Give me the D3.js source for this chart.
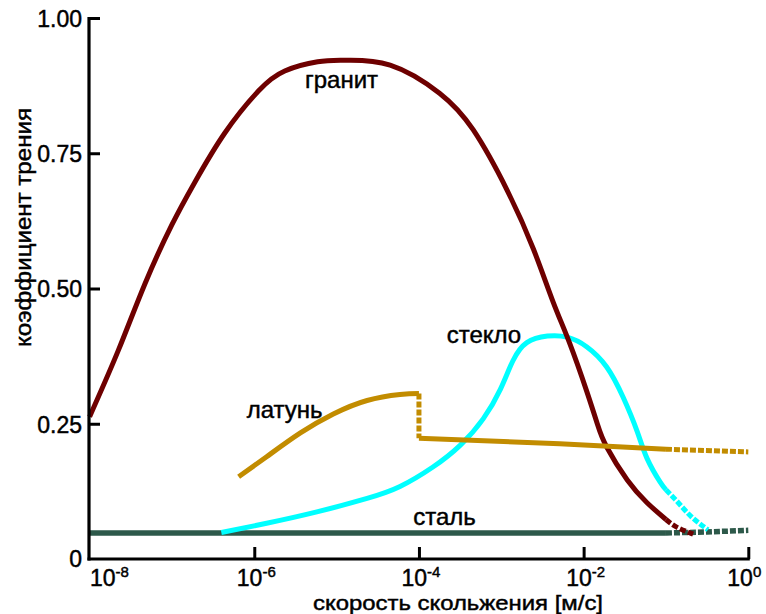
<!DOCTYPE html>
<html>
<head>
<meta charset="utf-8">
<script src="https://cdn.jsdelivr.net/npm/d3@7/dist/d3.min.js"></script>
<style>
  html, body { margin: 0; padding: 0; background: #fff; }
  svg { display: block; }
  text { font-family: "Liberation Sans", Arial, sans-serif; fill: #000; stroke: #000; stroke-width: 0.45px; }
</style>
</head>
<body>
<svg id="chart" width="766" height="614"></svg>
<script>
// ---- data (log10 of sliding speed in m/s, friction coefficient) ----
const graniteLogV  = [-8.0, -7.65, -7.33, -7.0, -6.72, -6.36, -5.95, -5.63, -5.23, -4.9, -4.35, -3.75, -3.34, -2.93, -2.61, -2.37, -2.17, -1.96, -1.83, -1.72, -1.47, -1.23, -1.0];
const graniteMu    = [0.263, 0.386, 0.508, 0.618, 0.697, 0.787, 0.865, 0.902, 0.919, 0.922, 0.913, 0.861, 0.793, 0.682, 0.573, 0.475, 0.399, 0.309, 0.248, 0.207, 0.146, 0.104, 0.073];
const graniteExtLogV = [-1.0, -0.87, -0.67];
const graniteExtMu   = [0.073, 0.059, 0.046];

const glassLogV  = [-6.40, -5.85, -5.24, -4.63, -4.23, -3.83, -3.50, -3.22, -3.01, -2.86, -2.69, -2.44, -2.20, -1.96, -1.72, -1.52, -1.35, -1.23, -1.07, -1.0];
const glassMu    = [0.049, 0.066, 0.087, 0.112, 0.134, 0.170, 0.210, 0.259, 0.314, 0.366, 0.400, 0.412, 0.410, 0.392, 0.355, 0.299, 0.236, 0.186, 0.142, 0.128];
const glassExtLogV = [-1.0, -0.85, -0.69, -0.49];
const glassExtMu   = [0.128, 0.104, 0.078, 0.054];

const brassLowLogV  = [-6.19, -5.85, -5.44, -5.04, -4.63, -4.23, -4.0];
const brassLowMu    = [0.152, 0.189, 0.233, 0.268, 0.293, 0.304, 0.306];
const brassJumpLogV = [-4.0, -4.0];
const brassJumpMu   = [0.306, 0.223];
const brassHighLogV = [-4.0, -2.29, -1.0];
const brassHighMu   = [0.223, 0.213, 0.203];
const brassExtLogV  = [-1.0, 0.0];
const brassExtMu    = [0.203, 0.198];

const steelLogV    = [-8.0, -1.0];
const steelMu      = [0.048, 0.048];
const steelExtLogV = [-1.0, -0.5, 0.0];
const steelExtMu   = [0.048, 0.050, 0.053];

const yTicks = [0, 0.25, 0.5, 0.75, 1.0];
const yTickLabels = ["0", "0.25", "0.50", "0.75", "1.00"];
const xTickExps = [-8, -6, -4, -2, 0];

const labels = [
  {text: "гранит", logv: -5.384, mu: 0.871},
  {text: "стекло", logv: -3.663, mu: 0.399},
  {text: "латунь", logv: -6.092, mu: 0.261},
  {text: "сталь",  logv: -4.069, mu: 0.063}
];
const xTitle = "скорость скольжения [м/с]";
const yTitle = "коэффициент трения";

// ---- scales ----
const svg = d3.select("#chart");
const x = d3.scaleLog().domain([1e-8, 1]).range([89.6, 748.3]);
const y = d3.scaleLinear().domain([0, 1]).range([559, 18]);

const zip = (a, b) => a.map((v, i) => [Math.pow(10, v), b[i]]);
const line = d3.line().x(d => x(d[0])).y(d => y(d[1])).curve(d3.curveNatural);
const straight = d3.line().x(d => x(d[0])).y(d => y(d[1]));

const colors = {granite: "#6e0000", glass: "#00ffff", brass: "#c28c00", steel: "#2d594a"};

function draw(data, color, width, dash, gen) {
  svg.append("path")
    .attr("d", (gen || line)(data))
    .attr("fill", "none")
    .attr("stroke", color)
    .attr("stroke-width", width)
    .attr("stroke-dasharray", dash || null)
    .attr("stroke-linecap", "butt")
    .attr("stroke-linejoin", "round");
}

// steel
draw(zip(steelLogV, steelMu), colors.steel, 5.5, null, straight);
draw(zip(steelExtLogV, steelExtMu), colors.steel, 5.5, "6,2", straight);
// glass
draw(zip(glassLogV, glassMu), colors.glass, 5);
draw(zip(glassExtLogV, glassExtMu), colors.glass, 5, "6,2");
// granite
draw(zip(graniteLogV, graniteMu), colors.granite, 5);
draw(zip(graniteExtLogV, graniteExtMu), colors.granite, 5, "6,2.5");
// brass
draw(zip(brassLowLogV, brassLowMu), colors.brass, 5);
draw(zip(brassJumpLogV, brassJumpMu), colors.brass, 5, "6,2", straight);
draw(zip(brassHighLogV, brassHighMu), colors.brass, 5, null, straight);
draw(zip(brassExtLogV, brassExtMu), colors.brass, 5, "6,2", straight);

// ---- axes ----
const yAxis = d3.axisLeft(y)
  .tickValues(yTicks.slice(1))
  .tickFormat((d) => yTickLabels[yTicks.indexOf(d)])
  .tickSizeInner(-11).tickSizeOuter(0).tickPadding(7);
const gy = svg.append("g").attr("transform", "translate(89,0)").call(yAxis);
gy.select(".domain").attr("stroke", "#000").attr("stroke-width", 3.2)
  .attr("d", `M0,${y(1) - 1}V${y(0) + 1.5}`);
gy.selectAll(".tick line").attr("stroke", "#000").attr("stroke-width", 3);
gy.selectAll(".tick text").style("font-size", "23px").attr("dy", "0.36em").attr("x", -7)
  .attr("fill", "#000").attr("stroke", "#000").attr("stroke-width", 0.45);
// zero label
svg.append("text").attr("x", 82).attr("y", y(0)).attr("dy", "0.36em")
  .attr("text-anchor", "end").style("font-size", "23px").text(yTickLabels[0]);

const xAxis = d3.axisBottom(x)
  .tickValues(xTickExps.slice(1).map(e => Math.pow(10, e)))
  .tickFormat("")
  .tickSizeInner(-12).tickSizeOuter(0);
const gx = svg.append("g").attr("transform", `translate(0,${y(0)})`).call(xAxis);
gx.select(".domain").attr("stroke", "#000").attr("stroke-width", 3.2)
  .attr("d", `M${89 - 1.5},0H${x(1) + 1.5}`);
gx.selectAll(".tick line").attr("stroke", "#000").attr("stroke-width", 3);

// x tick labels with superscript exponents
xTickExps.forEach(e => {
  const t = svg.append("text")
    .attr("y", 586)
    .style("font-size", "23px");
  t.append("tspan").text("10");
  t.append("tspan").text(e === 0 ? "0" : "-" + Math.abs(e))
    .style("font-size", "15px").attr("dy", -9);
  if (e === -8) {
    t.attr("x", 90).attr("text-anchor", "start");
  } else {
    t.attr("x", x(Math.pow(10, e)) + (e === 0 ? -4 : 2)).attr("text-anchor", "middle");
  }
});

// axis titles
svg.append("text").attr("x", 313).attr("y", 610)
  .attr("textLength", 290).attr("lengthAdjust", "spacingAndGlyphs")
  .style("font-size", "21px").text(xTitle);
svg.append("text")
  .attr("transform", "translate(31,347) rotate(-90)")
  .attr("textLength", 239).attr("lengthAdjust", "spacingAndGlyphs")
  .style("font-size", "22px").text(yTitle);

// curve labels
labels.forEach(l => {
  svg.append("text")
    .attr("x", x(Math.pow(10, l.logv)))
    .attr("y", y(l.mu))
    .style("font-size", "24px")
    .text(l.text);
});
</script>
</body>
</html>
